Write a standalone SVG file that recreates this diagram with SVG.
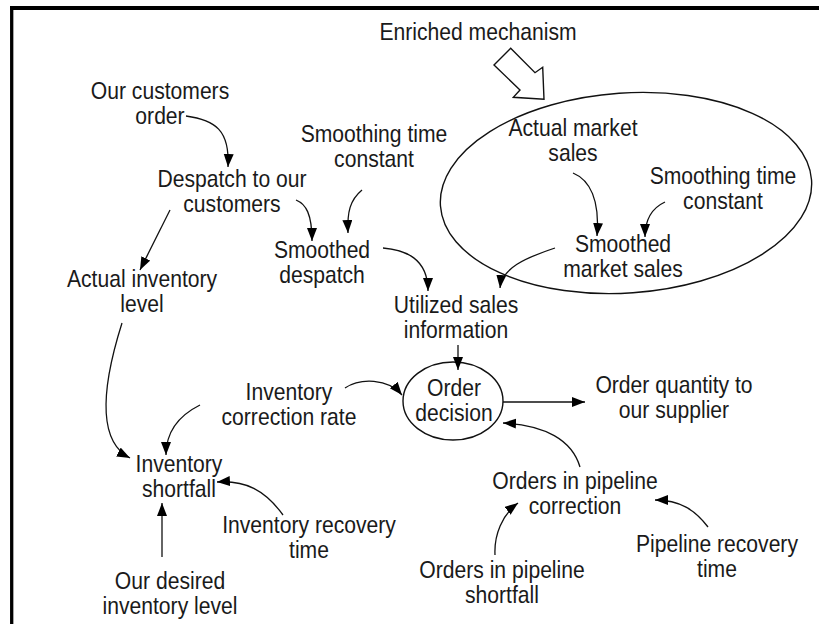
<svg xmlns="http://www.w3.org/2000/svg" width="819" height="624" viewBox="0 0 819 624">
  <style>
    .lbl { font-family: "Liberation Sans", Arial, sans-serif; font-size: 24px; fill: #1a1a1a; text-anchor: middle; }
    .link { fill: none; stroke: #111; stroke-width: 1.3; marker-end: url(#head); }
    .oval { fill: none; stroke: #111; stroke-width: 1.4; }
    .frame { stroke: #000; fill: none; }
  </style>
  <defs>
    <marker id="head" markerUnits="userSpaceOnUse" markerWidth="14" markerHeight="11" refX="13" refY="5" orient="auto">
      <path d="M0,0 L13,5 L0,10 z" fill="#000"/>
    </marker>
  </defs>

  <rect width="819" height="624" fill="#fff"/>

  <!-- page frame: top and left rules -->
  <line class="frame" x1="10" y1="8" x2="819" y2="8" stroke-width="4"/>
  <line class="frame" x1="11.7" y1="6" x2="11.7" y2="624" stroke-width="3.3"/>

  <!-- enriched mechanism callout -->
  <g id="enriched-mechanism">
    <text class="lbl" transform="translate(478,40) scale(0.88,1)">Enriched mechanism</text>
    <path d="M510.7,48.3 L535,72.7 L542.7,67.3 L544,99.3 L513.3,97.3 L520,90 L494,65 Z" fill="#fff" stroke="#111" stroke-width="1.4"/>
    <ellipse class="oval" cx="626" cy="193" rx="186" ry="100" transform="rotate(-4 626 193)"/>
  </g>

  <g id="customers-order">
    <text class="lbl" transform="translate(160,99) scale(0.88,1)"><tspan x="0">Our customers</tspan><tspan x="0" dy="25">order</tspan></text>
  </g>
  <g id="despatch">
    <text class="lbl" transform="translate(232,187) scale(0.88,1)"><tspan x="0">Despatch to our</tspan><tspan x="0" dy="25">customers</tspan></text>
  </g>
  <g id="smoothing-time-constant-1">
    <text class="lbl" transform="translate(374,142) scale(0.88,1)"><tspan x="0">Smoothing time</tspan><tspan x="0" dy="25">constant</tspan></text>
  </g>
  <g id="smoothed-despatch">
    <text class="lbl" transform="translate(322,258) scale(0.88,1)"><tspan x="0">Smoothed</tspan><tspan x="0" dy="25">despatch</tspan></text>
  </g>
  <g id="actual-inventory">
    <text class="lbl" transform="translate(142,287) scale(0.88,1)"><tspan x="0">Actual inventory</tspan><tspan x="0" dy="25">level</tspan></text>
  </g>
  <g id="actual-market-sales">
    <text class="lbl" transform="translate(573,136) scale(0.88,1)"><tspan x="0">Actual market</tspan><tspan x="0" dy="25">sales</tspan></text>
  </g>
  <g id="smoothing-time-constant-2">
    <text class="lbl" transform="translate(723,184) scale(0.88,1)"><tspan x="0">Smoothing time</tspan><tspan x="0" dy="25">constant</tspan></text>
  </g>
  <g id="smoothed-market-sales">
    <text class="lbl" transform="translate(623,252) scale(0.88,1)"><tspan x="0">Smoothed</tspan><tspan x="0" dy="25">market sales</tspan></text>
  </g>
  <g id="utilized-sales">
    <text class="lbl" transform="translate(456,313) scale(0.88,1)"><tspan x="0">Utilized sales</tspan><tspan x="0" dy="25">information</tspan></text>
  </g>
  <g id="order-decision">
    <ellipse class="oval" cx="453" cy="401" rx="50" ry="39"/>
    <text class="lbl" transform="translate(454,396) scale(0.88,1)"><tspan x="0">Order</tspan><tspan x="0" dy="25">decision</tspan></text>
  </g>
  <g id="order-quantity">
    <text class="lbl" transform="translate(674,393) scale(0.88,1)"><tspan x="0">Order quantity to</tspan><tspan x="0" dy="25">our supplier</tspan></text>
  </g>
  <g id="inventory-correction-rate">
    <text class="lbl" transform="translate(289,400) scale(0.88,1)"><tspan x="0">Inventory</tspan><tspan x="0" dy="25">correction rate</tspan></text>
  </g>
  <g id="inventory-shortfall">
    <text class="lbl" transform="translate(179,472) scale(0.88,1)"><tspan x="0">Inventory</tspan><tspan x="0" dy="25">shortfall</tspan></text>
  </g>
  <g id="pipeline-correction">
    <text class="lbl" transform="translate(575,489) scale(0.88,1)"><tspan x="0">Orders in pipeline</tspan><tspan x="0" dy="25">correction</tspan></text>
  </g>
  <g id="inventory-recovery-time">
    <text class="lbl" transform="translate(309,533) scale(0.88,1)"><tspan x="0">Inventory recovery</tspan><tspan x="0" dy="25">time</tspan></text>
  </g>
  <g id="pipeline-recovery-time">
    <text class="lbl" transform="translate(717,552) scale(0.88,1)"><tspan x="0">Pipeline recovery</tspan><tspan x="0" dy="25">time</tspan></text>
  </g>
  <g id="desired-inventory">
    <text class="lbl" transform="translate(170,589) scale(0.88,1)"><tspan x="0">Our desired</tspan><tspan x="0" dy="25">inventory level</tspan></text>
  </g>
  <g id="pipeline-shortfall">
    <text class="lbl" transform="translate(502,578) scale(0.88,1)"><tspan x="0">Orders in pipeline</tspan><tspan x="0" dy="25">shortfall</tspan></text>
  </g>

  <!-- causal links -->
  <g id="connectors">
    <path class="link" d="M186,116 C215,120 230,130 228,167"/>
    <path class="link" d="M170,210 L140,270"/>
    <path class="link" d="M296,200 C306,204 312,214 312,241"/>
    <path class="link" d="M362,190 C350,200 347,212 348,233"/>
    <path class="link" d="M383,248 C405,250 428,258 428,291"/>
    <path class="link" d="M573,173 C590,180 600,200 597,236"/>
    <path class="link" d="M665,202 C652,208 645,220 645,237"/>
    <path class="link" d="M555,248 C525,258 502,268 500,288"/>
    <path class="link" d="M458,345 L458,370"/>
    <path class="link" d="M503,402 L585,402"/>
    <path class="link" d="M580,467 C572,440 545,425 503,423"/>
    <path class="link" d="M495,555 C494,535 502,515 518,503"/>
    <path class="link" d="M708,527 C695,510 680,500 655,500"/>
    <path class="link" d="M122,323 C104,380 95,440 130,458"/>
    <path class="link" d="M200,405 C180,415 166,430 166,455"/>
    <path class="link" d="M345,388 C360,378 388,378 402,395"/>
    <path class="link" d="M283,515 C265,490 245,480 217,482"/>
    <path class="link" d="M162,557 L162,503"/>
  </g>
</svg>
